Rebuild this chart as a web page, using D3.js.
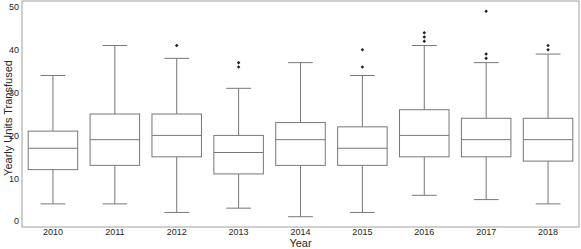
<!DOCTYPE html>
<html>
<head>
<meta charset="utf-8">
<script src="https://cdn.jsdelivr.net/npm/d3@7"></script>
<style>
  body { margin: 0; background: #fff; }
  text { font-family: "Liberation Sans", Arial, sans-serif; }
</style>
</head>
<body>
<div class="container"></div>
<script>
// box stats, one entry per year
var years = ["2010", "2011", "2012", "2013", "2014", "2015", "2016", "2017", "2018"];
var whiskerLow = [4, 4, 2, 3, 1, 2, 6, 5, 4];
var q1 = [12, 13, 15, 11, 13, 13, 15, 15, 14];
var medians = [17, 19, 20, 16, 19, 17, 20, 19, 19];
var q3 = [21, 25, 25, 20, 23, 22, 26, 24, 24];
var whiskerHigh = [34, 41, 38, 31, 37, 34, 41, 37, 39];
var outliers = [[], [], [41], [37, 36], [], [40, 36], [44, 43, 42], [49, 39, 38], [41, 40]];
var yTicks = [0, 10, 20, 30, 40, 50];

var W = 581, H = 249;
var margin = { left: 22, right: 2, top: 1, bottom: 22 };

var svg = d3.select(".container").append("svg")
    .attr("width", W)
    .attr("height", H);

var x = d3.scaleBand()
    .domain(years)
    .range([margin.left, W - margin.right])
    .padding(0);

var y = d3.scaleLinear()
    .domain([-1.4, 51.4])
    .range([H - margin.bottom, margin.top]);

var boxW = x.bandwidth() * 0.8;
var capW = boxW * 0.5;
var lineColor = "#777";

var boxes = years.map(function (yr, i) {
  return { year: yr, lo: whiskerLow[i], q1: q1[i], med: medians[i], q3: q3[i], hi: whiskerHigh[i], out: outliers[i] };
});

var g = svg.selectAll("g.box")
    .data(boxes)
    .enter()
    .append("g")
    .attr("class", "box")
    .attr("transform", function (d) { return "translate(" + (x(d.year) + x.bandwidth() / 2) + ",0)"; });

// whiskers
g.append("line")
    .attr("x1", 0).attr("x2", 0)
    .attr("y1", function (d) { return y(d.q3); })
    .attr("y2", function (d) { return y(d.hi); })
    .style("stroke", lineColor);
g.append("line")
    .attr("x1", 0).attr("x2", 0)
    .attr("y1", function (d) { return y(d.q1); })
    .attr("y2", function (d) { return y(d.lo); })
    .style("stroke", lineColor);

// caps
g.append("line")
    .attr("x1", -capW / 2).attr("x2", capW / 2)
    .attr("y1", function (d) { return y(d.hi); })
    .attr("y2", function (d) { return y(d.hi); })
    .style("stroke", lineColor);
g.append("line")
    .attr("x1", -capW / 2).attr("x2", capW / 2)
    .attr("y1", function (d) { return y(d.lo); })
    .attr("y2", function (d) { return y(d.lo); })
    .style("stroke", lineColor);

// box
g.append("rect")
    .attr("x", -boxW / 2)
    .attr("width", boxW)
    .attr("y", function (d) { return y(d.q3); })
    .attr("height", function (d) { return y(d.q1) - y(d.q3); })
    .style("fill", "#fff")
    .style("stroke", lineColor);

// median
g.append("line")
    .attr("x1", -boxW / 2).attr("x2", boxW / 2)
    .attr("y1", function (d) { return y(d.med); })
    .attr("y2", function (d) { return y(d.med); })
    .style("stroke", lineColor);

// fliers, small diamonds
g.selectAll("path.flier")
    .data(function (d) { return d.out; })
    .enter()
    .append("path")
    .attr("class", "flier")
    .attr("d", d3.symbol().type(d3.symbolDiamond2).size(8))
    .attr("transform", function (v) { return "translate(0," + y(v) + ")"; })
    .style("fill", "#222");

// frame
svg.append("rect")
    .attr("x", margin.left)
    .attr("y", margin.top)
    .attr("width", W - margin.left - margin.right)
    .attr("height", H - margin.top - margin.bottom)
    .style("fill", "none")
    .style("stroke", "#a0a0a0");

// axes, no tick marks
var yAxis = svg.append("g")
    .attr("transform", "translate(" + margin.left + ",0)")
    .call(d3.axisLeft(y).tickValues(yTicks).tickSize(0).tickPadding(3));
var xAxis = svg.append("g")
    .attr("transform", "translate(0," + (H - margin.bottom) + ")")
    .call(d3.axisBottom(x).tickSize(0).tickPadding(2));

[yAxis, xAxis].forEach(function (a) {
  a.select(".domain").remove();
  a.selectAll("text")
    .style("font-family", "'Liberation Sans', Arial, sans-serif")
    .style("font-size", "9px")
    .style("fill", "#262626");
});

svg.append("text")
    .attr("x", (margin.left + W - margin.right) / 2)
    .attr("y", 247)
    .attr("text-anchor", "middle")
    .style("font-size", "11px")
    .style("fill", "#262626")
    .text("Year");

svg.append("text")
    .attr("transform", "translate(12,118) rotate(-90)")
    .attr("text-anchor", "middle")
    .style("font-size", "11px")
    .style("fill", "#262626")
    .text("Yearly Units Transfused");
</script>
</body>
</html>
